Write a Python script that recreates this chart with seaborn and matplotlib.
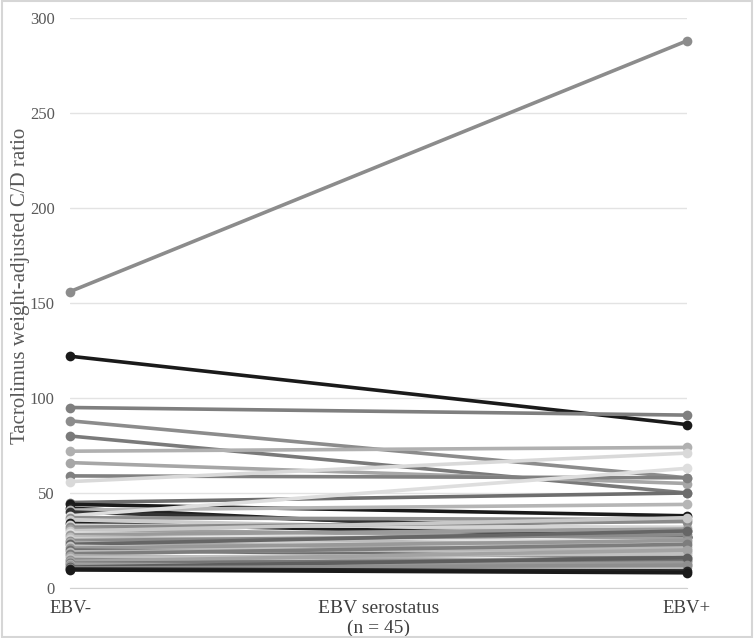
import matplotlib
matplotlib.use('Agg')
import matplotlib.pyplot as plt
from matplotlib.patches import Rectangle
import numpy as np
import pandas as pd
import seaborn as sns

# paired C/D ratios per patient: before (EBV-) and after (EBV+)
ebv_neg = [156, 122, 95, 88, 80, 72, 66, 59, 56, 45, 44, 42, 41, 40, 38,
           37, 36, 34, 33, 32, 31, 30, 29, 28, 27, 26, 25, 24, 23, 22,
           21, 20, 19, 18, 17, 16, 15, 14, 13, 12.5, 12, 11, 10.5, 10, 9.5]
ebv_pos = [288, 86, 91, 58, 50, 74, 55, 58, 71, 50, 38, 27, 44, 30, 63,
           36, 29, 27, 32, 35, 26, 37, 24, 31, 22, 20, 28, 19, 30, 17,
           25, 16, 21, 23, 14, 18, 12, 20, 15, 11, 13, 16, 12, 9, 8]
line_colors = ['#8c8c8c', '#1a1a1a', '#7f7f7f', '#8c8c8c', '#7a7a7a', '#b0b0b0',
               '#a6a6a6', '#808080', '#d9d9d9', '#6e6e6e', '#1a1a1a', '#222222',
               '#b5b5b5', '#333333', '#dedede', '#8f8f8f', '#cccccc', '#1f1f1f',
               '#d4d4d4', '#8a8a8a', '#a0a0a0', '#c8c8c8', '#e0e0e0', '#9a9a9a',
               '#bdbdbd', '#d0d0d0', '#8a8a8a', '#aaaaaa', '#666666', '#c4c4c4',
               '#999999', '#707070', '#b8b8b8', '#7d7d7d', '#a8a8a8', '#c0c0c0',
               '#8c8c8c', '#a3a3a3', '#757575', '#b0b0b0', '#999999', '#5e5e5e',
               '#8e8e8e', '#262626', '#1a1a1a']
x_labels = ['EBV-', 'EBV serostatus\n(n = 45)', 'EBV+']
y_ticks = [0, 50, 100, 150, 200, 250, 300]

n = len(ebv_neg)
df = pd.DataFrame({
    'patient': list(range(n)) * 2,
    'pos': [0.0] * n + [1.0] * n,
    'ratio': ebv_neg + ebv_pos,
})

sns.set_style('white')
plt.rcParams['font.family'] = ['Liberation Serif', 'DejaVu Serif']

fig = plt.figure(figsize=(7.54, 6.38), dpi=100)
ax = fig.add_axes([70 / 754, 50 / 638, 617 / 754, 570 / 638])

ax.yaxis.grid(True, color='#e3e3e3', linewidth=1)
ax.set_axisbelow(True)

sns.lineplot(data=df, x='pos', y='ratio', hue='patient', units='patient',
             estimator=None, palette=line_colors, marker='o', markersize=7,
             markeredgewidth=0, linewidth=2.6, legend=False, ax=ax)
for ln in ax.lines:
    ln.set_clip_on(False)

ax.set_xlim(0, 1)
ax.set_ylim(0, 300)
ax.set_yticks(y_ticks)
ax.set_xticks([0, 0.5, 1])
ax.set_xticklabels(x_labels)
for sp in ['top', 'right', 'left']:
    ax.spines[sp].set_visible(False)
ax.spines['bottom'].set_color('#d0d0d0')
ax.tick_params(axis='y', length=0, pad=11, labelsize=12, labelcolor='#595959')
ax.tick_params(axis='x', direction='inout', length=5, color='#c8c8c8',
               pad=6, labelsize=13.5, labelcolor='#404040')
labs = ax.get_xticklabels()
labs[1].set_fontsize(14)
ax.set_xlabel('')
ax.set_ylabel('Tacrolimus weight-adjusted C/D ratio', fontsize=15,
              color='#595959')
ax.yaxis.set_label_coords(-40 / 617, 0.53)

fig.add_artist(Rectangle((0.002, 0.002), 0.996, 0.996, transform=fig.transFigure,
                         fill=False, edgecolor='#d6d6d6', linewidth=1.5))

fig.savefig('out.png', dpi=100)
